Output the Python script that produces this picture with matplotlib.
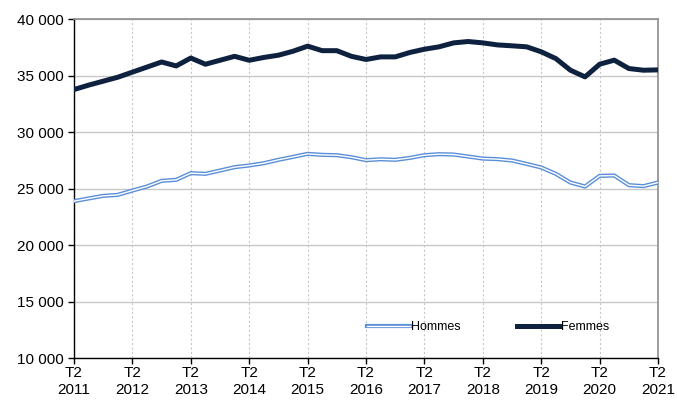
import matplotlib
matplotlib.use('Agg')
import matplotlib.pyplot as plt
from matplotlib.lines import Line2D
from matplotlib.ticker import FuncFormatter
import numpy as np

plt.rcParams['font.family'] = ['Liberation Sans', 'DejaVu Sans']

# quarterly series, T2 2011 -> T2 2021
hommes = [
    23880, 24120, 24350, 24440, 24820, 25180, 25680, 25770, 26360, 26300,
    26590, 26890, 27040, 27240, 27540, 27800, 28070, 27980, 27950, 27770,
    27510, 27590, 27540, 27710, 27950, 28040, 28010, 27830, 27650, 27600,
    27480, 27180, 26860, 26300, 25530, 25180, 26120, 26150, 25300, 25210,
    25530,
]
femmes = [
    33760, 34150, 34500, 34850, 35300, 35750, 36200, 35850, 36550, 36000,
    36350, 36700, 36350, 36600, 36800, 37150, 37600, 37200, 37200, 36700,
    36420, 36650, 36650, 37040, 37330, 37540, 37890, 38010, 37890, 37710,
    37630, 37540, 37100, 36500, 35470, 34880, 36000, 36360, 35620, 35470,
    35500,
]
years = list(range(2011, 2022))
tick_labels = ['T2\n{}'.format(y) for y in years]

C_H = '#5a8fd8'
C_F = '#0e2240'
GRID = '#c8c8c8'
LW_H, LW_W, LW_F = 3.0, 1.0, 3.6

fig = plt.figure(figsize=(6.77, 4.05), dpi=100)
ax = fig.add_axes([0.1093, 0.116, 0.8627, 0.837])

x = np.arange(len(hommes))
ax.plot(x, hommes, color=C_H, lw=LW_H, solid_joinstyle='miter', zorder=3)
ax.plot(x, hommes, color='white', lw=LW_W, solid_joinstyle='miter', zorder=4)
ax.plot(x, femmes, color=C_F, lw=LW_F, zorder=5)

ax.set_xlim(0, len(hommes) - 1)
ax.set_ylim(10000, 40000)
ax.set_yticks(np.arange(10000, 40001, 5000))
ax.yaxis.set_major_formatter(FuncFormatter(lambda v, p: '{:,.0f}'.format(v).replace(',', ' ')))
ax.set_xticks(np.arange(0, len(hommes), 4))
ax.set_xticklabels(tick_labels)

ax.grid(axis='y', color=GRID, lw=1.0, zorder=0)
ax.grid(axis='x', color=GRID, lw=0.8, ls=(0, (2, 2)), zorder=0)
ax.set_axisbelow(True)

for s in ['top', 'right']:
    ax.spines[s].set_color('#8c8c8c')
    ax.spines[s].set_linewidth(1.2)
for s in ['left', 'bottom']:
    ax.spines[s].set_color('black')
    ax.spines[s].set_linewidth(1.0)

ax.tick_params(axis='both', labelsize=11, colors='black', length=4, width=1,
               direction='out')
ax.tick_params(axis='x', pad=2)

h_handle = (Line2D([], [], color=C_H, lw=LW_H), Line2D([], [], color='white', lw=LW_W))
f_handle = Line2D([], [], color=C_F, lw=LW_F)
ax.legend([h_handle, f_handle], ['Hommes', 'Femmes'], ncol=2, frameon=False,
          loc='lower left', bbox_to_anchor=(0.483, 0.04), fontsize=9,
          handlelength=3.4, handletextpad=0.1, columnspacing=4.5)

fig.savefig('out.png', dpi=100, facecolor='white')
